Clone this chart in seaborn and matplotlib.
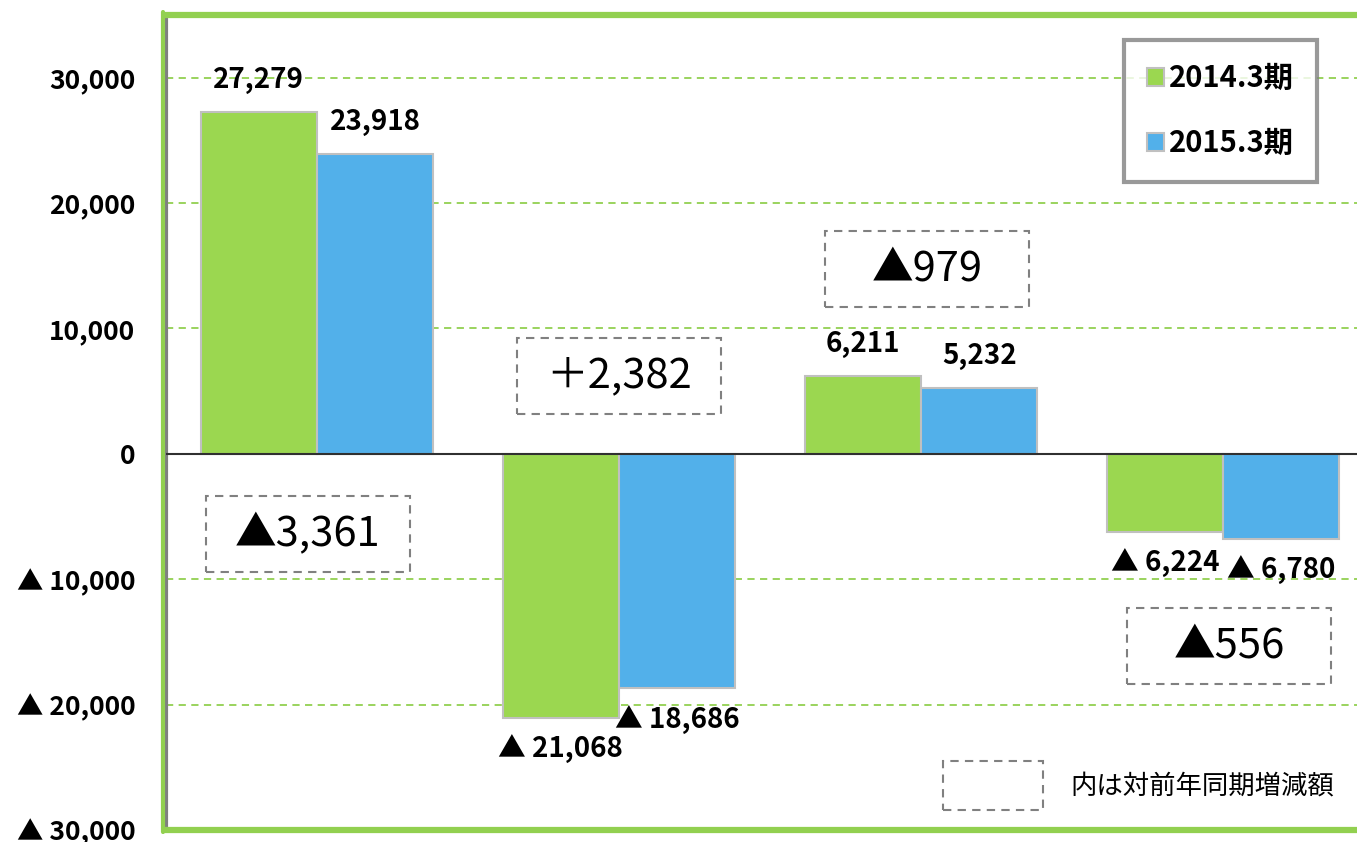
import pandas as pd
import matplotlib.pyplot as plt
import seaborn as sns
from matplotlib.patches import Rectangle
from matplotlib.lines import Line2D

# Data
items = ['営業CF', '投資CF', 'フリーCF', '財務CF']
periods = ['2014.3期', '2015.3期']
values_2014 = [27279, -21068, 6211, -6224]
values_2015 = [23918, -18686, 5232, -6780]
yticks = [30000, 20000, 10000, 0, -10000, -20000, -30000]
ytick_labels = ['30,000', '20,000', '10,000', '0', '▲ 10,000', '▲ 20,000', '▲ 30,000']

df = pd.DataFrame({
    'item': items * 2,
    'period': [periods[0]] * 4 + [periods[1]] * 4,
    'value': values_2014 + values_2015,
})

green = '#9BD750'
blue = '#52B0EA'
frame_green = '#92D050'

sns.set_theme(style='white')
plt.rcParams['font.family'] = ['Noto Sans CJK JP', 'DejaVu Sans']
plt.rcParams['text.color'] = 'black'
plt.rcParams['ytick.labelcolor'] = 'black'

fig = plt.figure(figsize=(13.57, 8.42), dpi=100)
ax = fig.add_axes([166 / 1357, 12 / 842, 1208 / 1357, 815 / 842])

sns.barplot(data=df, x='item', y='value', hue='period', palette=[green, blue],
            saturation=1, width=0.77, edgecolor='#C0C0C0', linewidth=1.5, ax=ax, zorder=3)

ax.set_xlim(-0.5, 3.5)
ax.set_ylim(-30000, 35000)
ax.set_xlabel('')
ax.set_ylabel('')
ax.set_xticks([])
ax.set_yticks(yticks)
ax.set_yticklabels(ytick_labels, fontsize=19, fontweight='bold', color='black')
ax.tick_params(axis='y', direction='in', length=8, width=3, color='#808080', pad=22)

# grid lines
for t in yticks[:-1]:
    if t != 0:
        ax.axhline(t, color=frame_green, lw=1.3, ls=(0, (4, 3)), zorder=1)
ax.axhline(0, color='#303030', lw=1.5, zorder=4)

# frame
for s in ['top', 'bottom']:
    ax.spines[s].set_color(frame_green)
    ax.spines[s].set_linewidth(4.5)
ax.spines['left'].set_color('#808080')
ax.spines['left'].set_linewidth(3)
ax.spines['right'].set_visible(False)
fig.add_artist(Line2D([162.5 / 1357] * 2, [10 / 842, 830 / 842], color=frame_green, lw=3))

# value labels
def fmt(v):
    return f'{v:,}' if v >= 0 else f'▲ {-v:,}'

for cont in ax.containers:
    for bar in cont:
        h = bar.get_height()
        x = bar.get_x() + bar.get_width() / 2
        val = bar.get_y() + h if bar.get_y() == 0 else bar.get_y()
        off = 23 if val >= 0 else -23
        ax.annotate(fmt(int(round(val))), (x, val), xytext=(0, off), textcoords='offset points',
                    ha='center', va='center', fontsize=20, fontweight='bold', zorder=5)

# change boxes (year-on-year difference)
box_pos = [(-0.03, -6380), (0.0, 6220), (0.02, 14760), (0.02, -15320)]
box_w, box_h = 0.675, 6060
for i, (dx, yc) in enumerate(box_pos):
    diff = values_2015[i] - values_2014[i]
    txt = f'＋{diff:,}' if diff > 0 else f'▲{-diff:,}'
    xc = i + dx
    ax.add_patch(Rectangle((xc - box_w / 2, yc - box_h / 2), box_w, box_h, fill=False,
                           ec='#808080', lw=1.5, ls=(0, (4, 3)), zorder=5))
    ax.text(xc, yc, txt, ha='center', va='center', fontsize=30, zorder=6)

# note box
fig.add_artist(Rectangle((943 / 1357, 1 - 810 / 842), 100 / 1357, 49 / 842, fill=False,
                         ec='#808080', lw=1.5, ls=(0, (4, 3)), transform=fig.transFigure))
fig.text(1070 / 1357, 1 - 786 / 842, '内は対前年同期増減額', ha='left', va='center', fontsize=19)

# legend
handles, labels = ax.get_legend_handles_labels()
leg = ax.legend(handles, labels, loc='upper right', bbox_to_anchor=(1317 / 1357, 1 - 40 / 842),
                bbox_transform=fig.transFigure, borderaxespad=0, fancybox=False,
                prop={'size': 21, 'weight': 'bold'}, handlelength=0.6, handleheight=0.6,
                handletextpad=0.15, labelspacing=1.2, borderpad=0.8)
leg.get_frame().set_edgecolor('#808080')
leg.get_frame().set_linewidth(3)

plt.savefig('out.png', dpi=100)
